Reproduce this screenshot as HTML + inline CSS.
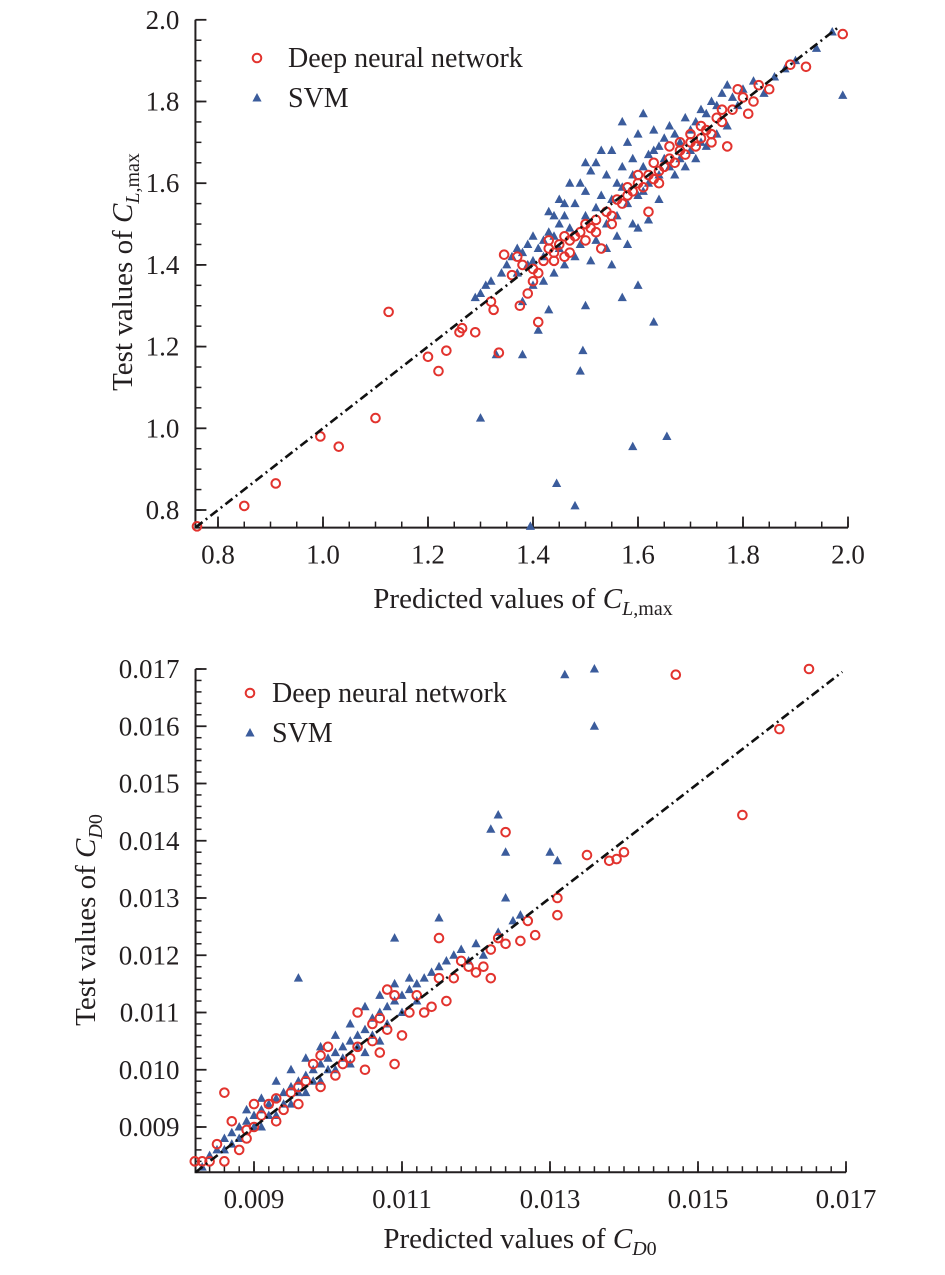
<!DOCTYPE html>
<html><head><meta charset="utf-8">
<style>
body{margin:0;background:#fff;}
svg text{font-family:"Liberation Serif",serif;fill:#231f20;}
</style></head>
<body>
<svg id="chart" width="945" height="1270" viewBox="0 0 945 1270" xmlns="http://www.w3.org/2000/svg"></svg>
<script>
// ---- Top chart data (CL,max) ----
const topXTicks = [0.8, 1.0, 1.2, 1.4, 1.6, 1.8, 2.0];
const topXTickLabels = ["0.8", "1.0", "1.2", "1.4", "1.6", "1.8", "2.0"];
const topYTicks = [0.8, 1.0, 1.2, 1.4, 1.6, 1.8, 2.0];
const topYTickLabels = ["0.8", "1.0", "1.2", "1.4", "1.6", "1.8", "2.0"];
const topDnn = [
[0.76,0.76],[0.85,0.81],[0.91,0.865],[0.995,0.98],[1.03,0.955],[1.10,1.025],[1.125,1.285],[1.20,1.175],[1.22,1.14],[1.235,1.19],
[1.265,1.245],[1.26,1.235],[1.29,1.235],[1.32,1.31],[1.325,1.29],[1.335,1.185],[1.345,1.425],[1.36,1.375],[1.37,1.42],[1.375,1.30],
[1.39,1.33],[1.40,1.36],[1.41,1.26],[1.40,1.39],[1.42,1.41],[1.43,1.44],[1.44,1.43],[1.45,1.45],[1.46,1.42],[1.47,1.46],
[1.48,1.47],[1.49,1.48],[1.46,1.47],[1.50,1.50],[1.51,1.49],[1.52,1.51],[1.53,1.44],[1.54,1.53],[1.55,1.52],[1.56,1.56],
[1.57,1.55],[1.58,1.57],[1.59,1.58],[1.60,1.60],[1.61,1.59],[1.62,1.53],[1.62,1.62],[1.63,1.61],[1.64,1.63],[1.65,1.64],
[1.66,1.66],[1.67,1.65],[1.68,1.68],[1.69,1.67],[1.70,1.70],[1.71,1.69],[1.72,1.71],[1.73,1.73],[1.74,1.72],[1.75,1.76],
[1.76,1.75],[1.77,1.69],[1.78,1.78],[1.79,1.83],[1.80,1.81],[1.82,1.80],[1.83,1.84],[1.85,1.83],[1.89,1.89],[1.92,1.885],
[1.99,1.965],[1.44,1.41],[1.47,1.43],[1.52,1.48],[1.58,1.59],[1.60,1.62],[1.64,1.60],[1.68,1.70],[1.72,1.74],[1.74,1.70],
[1.38,1.40],[1.41,1.38],[1.50,1.46],[1.55,1.50],[1.63,1.65],[1.66,1.69],[1.70,1.72],[1.76,1.78],[1.81,1.77],[1.43,1.46]
];
const topSvm = [
[1.30,1.025],[1.395,0.76],[1.445,0.865],[1.48,0.81],[1.59,0.955],[1.655,0.98],[1.63,1.26],[1.495,1.19],[1.49,1.14],[1.50,1.30],
[1.99,1.815],[1.97,1.97],[1.38,1.18],[1.33,1.18],[1.43,1.29],[1.60,1.35],[1.57,1.32],[1.55,1.40],[1.29,1.32],[1.30,1.33],
[1.31,1.35],[1.32,1.36],[1.34,1.38],[1.35,1.40],[1.36,1.42],[1.37,1.44],[1.38,1.43],[1.39,1.45],[1.40,1.47],[1.41,1.44],
[1.42,1.46],[1.43,1.48],[1.44,1.47],[1.45,1.50],[1.46,1.52],[1.47,1.49],[1.48,1.55],[1.49,1.60],[1.50,1.58],[1.51,1.63],
[1.52,1.65],[1.53,1.57],[1.54,1.62],[1.55,1.68],[1.56,1.60],[1.57,1.64],[1.58,1.70],[1.59,1.66],[1.60,1.72],[1.61,1.58],
[1.62,1.67],[1.63,1.73],[1.64,1.69],[1.65,1.71],[1.66,1.74],[1.67,1.72],[1.68,1.70],[1.69,1.76],[1.70,1.73],[1.71,1.75],
[1.72,1.78],[1.73,1.77],[1.74,1.80],[1.75,1.79],[1.76,1.82],[1.77,1.84],[1.78,1.81],[1.80,1.83],[1.82,1.85],[1.84,1.82],
[1.86,1.86],[1.88,1.88],[1.90,1.90],[1.94,1.93],[1.50,1.52],[1.52,1.54],[1.54,1.50],[1.56,1.52],[1.58,1.55],[1.60,1.57],
[1.62,1.60],[1.64,1.62],[1.66,1.64],[1.68,1.66],[1.70,1.68],[1.72,1.70],[1.56,1.47],[1.58,1.45],[1.60,1.49],[1.62,1.51],
[1.54,1.44],[1.52,1.46],[1.48,1.42],[1.46,1.40],[1.44,1.38],[1.42,1.36],[1.40,1.35],[1.38,1.31],[1.47,1.60],[1.45,1.56],
[1.43,1.53],[1.50,1.65],[1.53,1.68],[1.57,1.75],[1.61,1.77],[1.65,1.66],[1.67,1.62],[1.64,1.56],[1.59,1.50],[1.55,1.56],
[1.49,1.45],[1.51,1.41],[1.41,1.24],[1.44,1.52],[1.46,1.55],[1.39,1.40],[1.37,1.38],[1.40,1.41],[1.42,1.42],[1.45,1.44],
[1.71,1.66],[1.73,1.69],[1.75,1.72],[1.77,1.74],[1.79,1.79],[1.69,1.64],[1.63,1.68],[1.61,1.64],[1.59,1.62],[1.57,1.59]
];
// ---- Bottom chart data (CD0) ----
const botXTicks = [0.009, 0.011, 0.013, 0.015, 0.017];
const botXTickLabels = ["0.009", "0.011", "0.013", "0.015", "0.017"];
const botYTicks = [0.009, 0.010, 0.011, 0.012, 0.013, 0.014, 0.015, 0.016, 0.017];
const botYTickLabels = ["0.009", "0.010", "0.011", "0.012", "0.013", "0.014", "0.015", "0.016", "0.017"];
const botDnn = [
[0.0165,0.0170],[0.0147,0.0169],[0.0161,0.01595],[0.0156,0.01445],[0.0140,0.0138],[0.0139,0.01368],[0.0138,0.01365],[0.0135,0.01375],[0.0124,0.01415],[0.0131,0.0130],
[0.0131,0.0127],[0.0128,0.01235],[0.0127,0.0126],[0.0126,0.01225],[0.0124,0.0122],[0.0123,0.0123],[0.0122,0.0116],[0.0122,0.0121],[0.0115,0.0123],[0.0121,0.0118],
[0.0120,0.0117],[0.0118,0.0119],[0.0117,0.0116],[0.0116,0.0112],[0.0115,0.0116],[0.0113,0.0110],[0.0112,0.0113],[0.0109,0.0113],[0.0109,0.0101],[0.0108,0.0114],
[0.0107,0.0109],[0.0106,0.0108],[0.0104,0.0110],[0.0103,0.0102],[0.0100,0.0104],[0.0099,0.01025],[0.0098,0.0101],[0.0097,0.0098],[0.0096,0.0097],[0.0095,0.0096],
[0.0094,0.0093],[0.0093,0.0095],[0.0092,0.0094],[0.0091,0.0092],[0.0090,0.0094],[0.0089,0.0088],[0.0088,0.0086],[0.0087,0.0091],[0.0086,0.0096],[0.0086,0.0084],
[0.0085,0.0087],[0.0084,0.0084],[0.0083,0.0084],[0.0082,0.0084],[0.0099,0.0097],[0.0105,0.0100],[0.0107,0.0103],[0.0110,0.0106],[0.0101,0.0099],[0.0096,0.0094],
[0.0093,0.0091],[0.0089,0.00895],[0.0090,0.0090],[0.0102,0.0101],[0.0104,0.0104],[0.0106,0.0105],[0.0108,0.0107],[0.0111,0.0110],[0.0114,0.0111],[0.0119,0.0118]
];
const botSvm = [
[0.0132,0.0169],[0.0136,0.0170],[0.0136,0.0160],[0.0122,0.0142],[0.0123,0.01445],[0.0124,0.0138],[0.0130,0.0138],[0.0131,0.01365],[0.0124,0.0130],[0.0115,0.01265],
[0.0109,0.0123],[0.0096,0.0116],[0.0126,0.0127],[0.0083,0.0083],[0.0084,0.0085],[0.0085,0.0086],[0.0086,0.0088],[0.0087,0.0089],[0.0088,0.0090],[0.0089,0.0091],
[0.0090,0.0092],[0.0091,0.0093],[0.0092,0.0094],[0.0093,0.0095],[0.0094,0.0096],[0.0095,0.0097],[0.0096,0.0098],[0.0097,0.0099],[0.0098,0.0100],[0.0099,0.0101],
[0.0100,0.0102],[0.0101,0.0103],[0.0102,0.0104],[0.0103,0.0105],[0.0104,0.0106],[0.0105,0.0107],[0.0106,0.0109],[0.0107,0.0110],[0.0108,0.0111],[0.0109,0.0112],
[0.0110,0.0113],[0.0111,0.0114],[0.0112,0.0115],[0.0113,0.0116],[0.0114,0.0117],[0.0115,0.0118],[0.0116,0.0119],[0.0117,0.0120],[0.0118,0.0121],[0.0120,0.0122],
[0.0088,0.0088],[0.0090,0.0090],[0.0092,0.0092],[0.0094,0.0094],[0.0096,0.0096],[0.0098,0.0098],[0.0100,0.0100],[0.0102,0.0102],[0.0104,0.0104],[0.0106,0.0106],
[0.0108,0.0108],[0.0110,0.0110],[0.0112,0.0112],[0.0089,0.0093],[0.0091,0.0095],[0.0093,0.0098],[0.0095,0.0100],[0.0097,0.0102],[0.0099,0.0104],[0.0101,0.0106],
[0.0103,0.0108],[0.0105,0.0111],[0.0107,0.0113],[0.0109,0.0115],[0.0091,0.0090],[0.0093,0.0092],[0.0095,0.0094],[0.0097,0.0096],[0.0099,0.0098],[0.0101,0.0100],
[0.0103,0.0101],[0.0105,0.0103],[0.0107,0.0105],[0.0087,0.0087],[0.0086,0.0086],[0.0119,0.0119],[0.0121,0.0120],[0.0123,0.0124],[0.0125,0.0126],[0.0111,0.0116]
];

const svg = document.getElementById('chart');
const NS = 'http://www.w3.org/2000/svg';
function mk(tag, attrs, parent){
  const e = document.createElementNS(NS, tag);
  for (const k in attrs) e.setAttribute(k, attrs[k]);
  (parent||svg).appendChild(e);
  return e;
}

function drawChart(cfg){
  const g = mk('g', {});
  
  
  const sx = v => cfg.x0px + (v - cfg.x0v) * cfg.xs;
  const sy = v => cfg.y0px - (v - cfg.y0v) * cfg.ys;
  const L = sx(cfg.min), R = sx(cfg.max), B = sy(cfg.min), T = sy(cfg.max);
  // axes
  const ax = mk('path', {d:`M${L},${T} L${L},${B} L${R},${B}`, fill:'none', stroke:'#231f20', 'stroke-width':2}, g);
  
  
  // minor ticks
  for (let v = cfg.minorStart; v <= cfg.max + 1e-9; v += cfg.minor){
    mk('line', {x1:sx(v), y1:B, x2:sx(v), y2:B-6, stroke:'#231f20','stroke-width':1.5}, g);
    mk('line', {x1:L, y1:sy(v), x2:L+6, y2:sy(v), stroke:'#231f20','stroke-width':1.5}, g);
  }
  cfg.xt.forEach((v,i)=>{
    mk('line', {x1:sx(v), y1:B, x2:sx(v), y2:B-11, stroke:'#231f20','stroke-width':1.8}, g);
    const t = mk('text', {x:sx(v), y:B+36, 'text-anchor':'middle','font-size':27}, g);
    t.textContent = cfg.xl[i];
    
    
  });
  cfg.yt.forEach((v,i)=>{
    mk('line', {x1:L, y1:sy(v), x2:L+11, y2:sy(v), stroke:'#231f20','stroke-width':1.8}, g);
    const t = mk('text', {x:L-16, y:sy(v)+9, 'text-anchor':'end','font-size':27}, g);
    t.textContent = cfg.yl[i];
    
    
  });
  // points
  cfg.svm.forEach(p=>{
    const x = sx(p[0]), y = sy(p[1]);
    const tr = mk('polygon', {points:`${x},${y-5} ${x-4.6},${y+3.5} ${x+4.6},${y+3.5}`, fill:'#3b5c9c'}, g);
    
    
  });
  cfg.dnn.forEach(p=>{
    const c = mk('circle', {cx:sx(p[0]), cy:sy(p[1]), r:4.3, fill:'none', stroke:'#e2332e','stroke-width':2}, g);
    
    
  });
  // diagonal
  const dl = mk('line', {x1:sx(cfg.min), y1:sy(cfg.min), x2:sx(cfg.lineEnd), y2:sy(cfg.lineEnd), stroke:'#111','stroke-width':2.6,'stroke-dasharray':'9 4 2 4'}, g);
  
  
  // legend
  const lc = mk('circle', {cx:cfg.legX, cy:cfg.legY, r:4.3, fill:'none', stroke:'#e2332e','stroke-width':2}, g);
  
  
  const lt1 = mk('text', {x:cfg.legX+cfg.legDx, y:cfg.legY+9, 'font-size':28}, g);
  lt1.textContent = 'Deep neural network';
  
  
  const y2 = cfg.legY + 40;
  const lm = mk('polygon', {points:`${cfg.legX},${y2-5} ${cfg.legX-4.6},${y2+3.5} ${cfg.legX+4.6},${y2+3.5}`, fill:'#3b5c9c'}, g);
  
  
  const lt2 = mk('text', {x:cfg.legX+cfg.legDx, y:y2+9, 'font-size':28}, g);
  lt2.textContent = 'SVM';
  
  
  // axis titles
  const xt = mk('text', {x:cfg.xTitleX, y:cfg.xTitleY, 'text-anchor':'middle','font-size':29}, g);
  xt.innerHTML = cfg.xTitle;
  
  
  const yt = mk('text', {x:0, y:0, 'text-anchor':'middle','font-size':29, transform:`translate(${cfg.yTitleX},${cfg.yTitleY}) rotate(-90)`}, g);
  yt.innerHTML = cfg.yTitle;
  
  
}

drawChart({
  name:'top-chart-clmax', x0px:218, x0v:0.8, xs:525, y0px:510, y0v:0.8, ys:408.5,
  min:0.757, max:2.0, lineEnd:1.985, minorStart:0.8, minor:0.05,
  xt:topXTicks, xl:topXTickLabels, yt:topYTicks, yl:topYTickLabels,
  dnn:topDnn, svm:topSvm, legX:257, legY:58, legDx:31,
  xTitle:'Predicted values of <tspan font-style="italic">C</tspan><tspan font-style="italic" font-size="20" dy="7">L</tspan><tspan font-size="20">,max</tspan>',
  xTitleX:523, xTitleY:608,
  yTitle:'Test values of <tspan font-style="italic">C</tspan><tspan font-style="italic" font-size="20" dy="7">L</tspan><tspan font-size="20">,max</tspan>',
  yTitleX:132, yTitleY:272
});
drawChart({
  name:'bottom-chart-cd0', x0px:254, x0v:0.009, xs:74000, y0px:1127, y0v:0.009, ys:57250,
  min:0.00821, max:0.017, lineEnd:0.01695, minorStart:0.0084, minor:0.0002,
  xt:botXTicks, xl:botXTickLabels, yt:botYTicks, yl:botYTickLabels,
  dnn:botDnn, svm:botSvm, legX:250, legY:693, legDx:22,
  xTitle:'Predicted values of <tspan font-style="italic">C</tspan><tspan font-size="20" dy="7"><tspan font-style="italic">D</tspan>0</tspan>',
  xTitleX:520, xTitleY:1248,
  yTitle:'Test values of <tspan font-style="italic">C</tspan><tspan font-size="20" dy="7"><tspan font-style="italic">D</tspan>0</tspan>',
  yTitleX:95, yTitleY:920
});
</script>
</body></html>
